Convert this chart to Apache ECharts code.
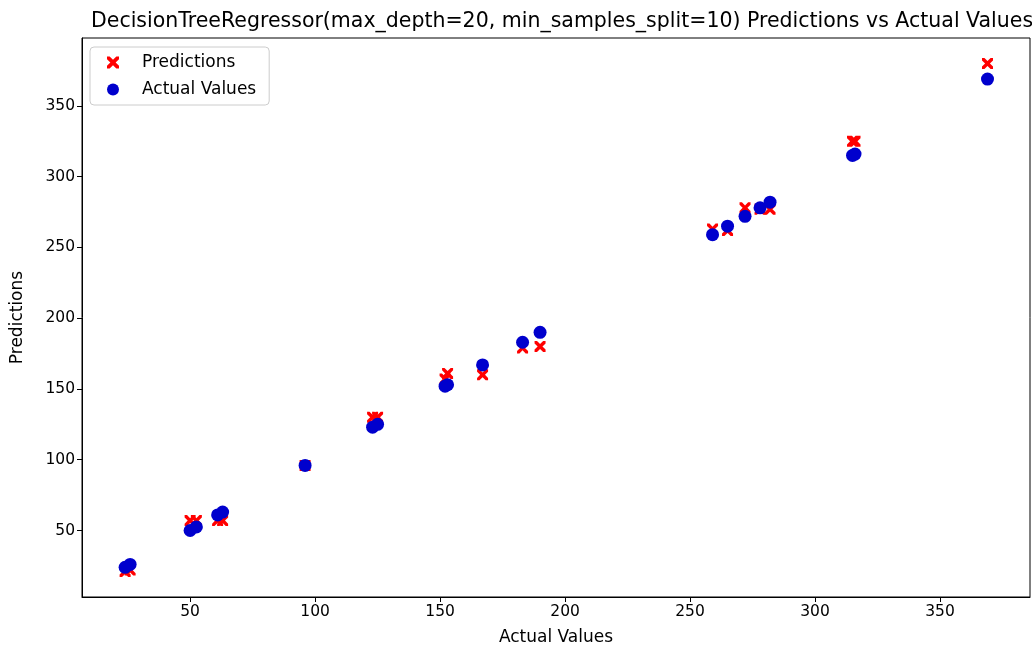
<!DOCTYPE html>
<html>
<head>
<meta charset="utf-8">
<script src="https://cdn.jsdelivr.net/npm/echarts@6/dist/echarts.min.js"></script>
<style>
  html, body { margin: 0; padding: 0; background: #fff; }
  #chart { width: 1032px; height: 647px; }
</style>
</head>
<body>
<div id="chart"></div>
<script>
// actual target values (x) and the tree's predictions (y)
const actual = [24, 26, 50, 52.5, 61, 63, 96, 123, 125, 152, 153, 167, 183, 190, 259, 265, 272, 278, 282, 315, 316, 369]
const predicted = [21, 22, 57, 57, 57, 57, 96, 130, 130, 157, 161, 160, 179, 180, 263, 262, 278, 277, 277, 325, 325, 380]
const xTicks = [50, 100, 150, 200, 250, 300, 350]
const yTicks = [50, 100, 150, 200, 250, 300, 350]

const xMark = 'path://M0,0 L2.2,0 L5,2.8 L7.8,0 L10,0 L10,2.2 L7.2,5 L10,7.8 L10,10 L7.8,10 L5,7.2 L2.2,10 L0,10 L0,7.8 L2.8,5 L0,2.2 Z'
const font = 'DejaVu Sans'

const chart = echarts.init(document.getElementById('chart'))

const axisCommon = {
  type: 'value',
  axisLine: { show: true, lineStyle: { color: '#000', width: 1 } },
  axisTick: { show: true, length: 5, lineStyle: { color: '#000' } },
  axisLabel: { color: '#000', fontSize: 15.5, fontFamily: font, margin: 7 },
  splitLine: { show: false },
  nameLocation: 'middle',
  nameTextStyle: { color: '#000', fontSize: 17, fontFamily: font }
}

chart.setOption({
  animation: false,
  title: {
    text: 'DecisionTreeRegressor(max_depth=20, min_samples_split=10) Predictions vs Actual Values',
    left: 86,
    top: 6,
    textStyle: { color: '#000', fontSize: 20.5, fontWeight: 'normal', fontFamily: font }
  },
  legend: {
    orient: 'vertical',
    left: 90,
    top: 47,
    padding: [7, 13, 7, 17],
    itemGap: 10,
    itemWidth: 12,
    itemHeight: 12,
    borderColor: '#cccccc',
    borderWidth: 1,
    borderRadius: 4,
    textStyle: { color: '#000', fontSize: 17, fontFamily: font, padding: [0, 0, 0, 18] },
    data: [
      { name: 'Predictions', icon: xMark },
      { name: 'Actual Values', icon: 'circle' }
    ]
  },
  grid: {
    left: 82,
    right: 2,
    top: 38,
    bottom: 50,
    outerBoundsMode: 'none',
    show: true,
    borderColor: '#000',
    borderWidth: 1
  },
  xAxis: {
    ...axisCommon,
    min: 6.75,
    max: 386,
    name: 'Actual Values',
    nameGap: 32,
    axisTick: { ...axisCommon.axisTick, customValues: xTicks },
    axisLabel: { ...axisCommon.axisLabel, customValues: xTicks }
  },
  yAxis: {
    ...axisCommon,
    min: 3,
    max: 398,
    name: 'Predictions',
    nameGap: 56,
    nameRotate: 90,
    axisTick: { ...axisCommon.axisTick, customValues: yTicks },
    axisLabel: { ...axisCommon.axisLabel, customValues: yTicks }
  },
  series: [
    {
      name: 'Predictions',
      type: 'scatter',
      symbol: xMark,
      symbolSize: 11,
      itemStyle: { color: '#ff0000', opacity: 1 },
      data: actual.map((v, i) => [v, predicted[i]])
    },
    {
      name: 'Actual Values',
      type: 'scatter',
      symbol: 'circle',
      symbolSize: 13,
      itemStyle: { color: '#0000cd', opacity: 1 },
      data: actual.map(v => [v, v])
    }
  ]
})
</script>
</body>
</html>
